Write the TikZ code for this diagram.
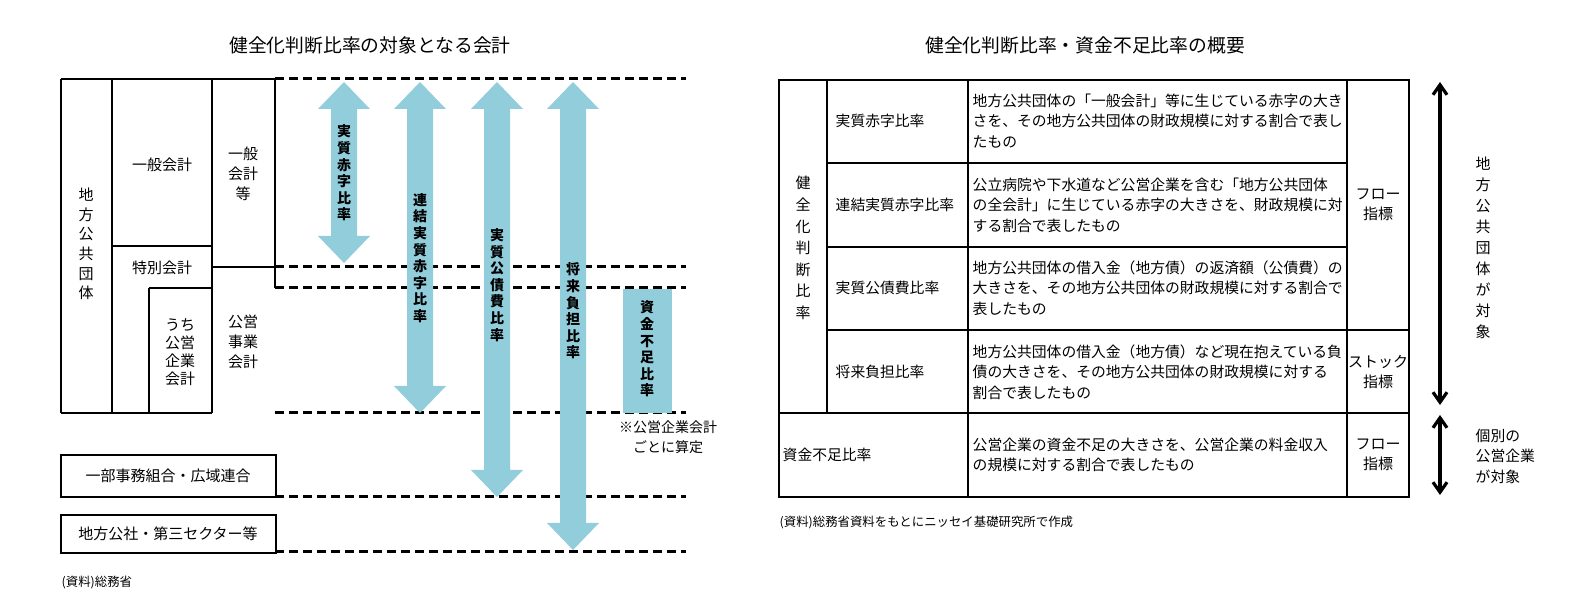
\documentclass[tikz,border=0pt]{standalone}
\usepackage{fontspec}
\setmainfont{Noto Sans CJK JP}
\usepackage{tikz}
\usetikzlibrary{arrows.meta}
\definecolor{arrowblue}{RGB}{146,205,220}
\newcommand{\bluearrow}[3]{% center x, top y, bottom y
\fill[arrowblue] (#1,#2) -- ({#1+26},{#2+27}) -- ({#1+13},{#2+27}) -- ({#1+13},{#3-27}) -- ({#1+26},{#3-27})
  -- (#1,#3) -- ({#1-26},{#3-27}) -- ({#1-13},{#3-27}) -- ({#1-13},{#2+27}) -- ({#1-26},{#2+27}) -- cycle;}

\begin{document}
\begin{tikzpicture}[x=0.5pt,y=-0.5pt,line width=0.7pt,
  lbl/.style={inner sep=0pt,font=\fontsize{7.5}{10}\selectfont,align=center},
  vlbl/.style={inner sep=0pt,font=\fontsize{7.5}{10}\selectfont,align=center},
  arrlbl/.style={inner sep=0pt,font=\bfseries\fontsize{7}{8.3}\selectfont,align=center},
  desc/.style={inner sep=0pt,anchor=west,font=\fontsize{7.4}{10.25}\selectfont,align=left},
  note/.style={inner sep=0pt,font=\fontsize{6.2}{8}\selectfont},
  dashline/.style={line width=1.5pt,dash pattern=on 4.5pt off 2.5pt}]
\useasboundingbox (0,0) rectangle (1586,603);

% titles
\node[lbl,font=\fontsize{9.4}{11}\selectfont] (title1) at (370,45) {健全化判断比率の対象となる会計};
\node[lbl,font=\fontsize{9.4}{11}\selectfont] (title2) at (1085,45) {健全化判断比率・資金不足比率の概要};

%left frame
\draw (61,79) -- (275,79);
\draw (61,79) -- (61,413);
\draw (112,79) -- (112,413);
\draw (212,79) -- (212,413);
\draw (275,79) -- (275,288);
\draw (149,288) -- (149,413);
\draw (112,246) -- (212,246);
\draw (212,267) -- (275,267);
\draw (149,288) -- (212,288);
\draw (61,413) -- (212,413);
\draw (61,455) rectangle (276,497);
\draw (61,515) rectangle (276,553);

\node[vlbl,font=\fontsize{7.5}{9.8}\selectfont] (chiho) at (86,244) {地\\方\\公\\共\\団\\体};
\node[lbl] (ippan) at (162,165) {一般会計};
\node[vlbl] (ippanto) at (243,174) {一般\\会計\\等};
\node[lbl] (tokubetsu) at (162,268) {特別会計};
\node[vlbl,font=\fontsize{7.5}{9}\selectfont] (kigyo) at (180,352) {うち\\公営\\企業\\会計};
\node[vlbl] (koei) at (243,342) {公営\\事業\\会計};
\node[lbl] (ichibu) at (168,476) {一部事務組合・広域連合};
\node[lbl] (kosha) at (168,534) {地方公社・第三セクター等};
\node[note,anchor=west] (src1) at (61,583) {(資料)総務省};

%levels
\foreach \y in {79,267,288,413,497,552}
  \draw[dashline] (275,\y) -- (686,\y);

%arrows
\bluearrow{344}{82}{263}
\bluearrow{420}{82}{413}
\bluearrow{497}{82}{497}
\bluearrow{573}{82}{550}
\fill[arrowblue] (623,289) rectangle (672,413);
\node[arrlbl] (a1) at (344,173) {実\\質\\赤\\字\\比\\率};
\node[arrlbl] (a2) at (420,258) {連\\結\\実\\質\\赤\\字\\比\\率};
\node[arrlbl] (a3) at (497,285) {実\\質\\公\\債\\費\\比\\率};
\node[arrlbl] (a4) at (573,311) {将\\来\\負\\担\\比\\率};
\node[arrlbl] (a5) at (647,349) {資\\金\\不\\足\\比\\率};
\node[lbl,font=\fontsize{7}{10}\selectfont] (sanntei) at (668,437) {※公営企業会計\\ごとに算定};

%right table
\draw (779,80) rectangle (1409,497);
\draw (827,80) -- (827,413);
\draw (968,80) -- (968,497);
\draw (1347,80) -- (1347,497);
\foreach \y in {163,247}
  \draw (827,\y) -- (1347,\y);
\draw (827,330) -- (1409,330);
\draw (779,413) -- (1409,413);

\node[vlbl,font=\fontsize{7.5}{10.8}\selectfont] (kenzen) at (803,248) {健\\全\\化\\判\\断\\比\\率};
\node[desc] (n1) at (835,121) {実質赤字比率};
\node[desc] (n2) at (835,205) {連結実質赤字比率};
\node[desc] (n3) at (835,288) {実質公債費比率};
\node[desc] (n4) at (835,372) {将来負担比率};
\node[desc] (n5) at (782,455) {資金不足比率};
\node[desc] (d1) at (972,121) {地方公共団体の「一般会計」等に生じている赤字の大き\\さを、その地方公共団体の財政規模に対する割合で表し\\たもの};
\node[desc] (d2) at (972,205) {公立病院や下水道など公営企業を含む「地方公共団体\\の全会計」に生じている赤字の大きさを、財政規模に対\\する割合で表したもの};
\node[desc] (d3) at (972,288) {地方公共団体の借入金（地方債）の返済額（公債費）の\\大きさを、その地方公共団体の財政規模に対する割合で\\表したもの};
\node[desc] (d4) at (972,372) {地方公共団体の借入金（地方債）など現在抱えている負\\債の大きさを、その地方公共団体の財政規模に対する\\割合で表したもの};
\node[desc] (d5) at (972,455) {公営企業の資金不足の大きさを、公営企業の料金収入\\の規模に対する割合で表したもの};
\node[lbl] (k1) at (1378,205) {フロー\\指標};
\node[lbl] (k2) at (1378,372) {ストック\\指標};
\node[lbl] (k3) at (1378,455) {フロー\\指標};
\node[note,anchor=west] (src2) at (779,523) {(資料)総務省資料をもとにニッセイ基礎研究所で作成};

%scope arrows
\coordinate (s1) at (1440,82);
\coordinate (s2) at (1440,405);
\coordinate (s3) at (1440,415);
\coordinate (s4) at (1440,495);
\draw[line width=1.6pt,{Straight Barb[length=5pt,width=7pt]}-{Straight Barb[length=5pt,width=7pt]}] (s1) -- (s2);
\draw[line width=1.6pt,{Straight Barb[length=5pt,width=7pt]}-{Straight Barb[length=5pt,width=7pt]}] (s3) -- (s4);
\node[vlbl,font=\fontsize{7.5}{10.5}\selectfont] (taisho1) at (1483,248) {地\\方\\公\\共\\団\\体\\が\\対\\象};
\node[desc,align=left] (taisho2) at (1475,456) {個別の\\公営企業\\が対象};
\end{tikzpicture}
\end{document}
